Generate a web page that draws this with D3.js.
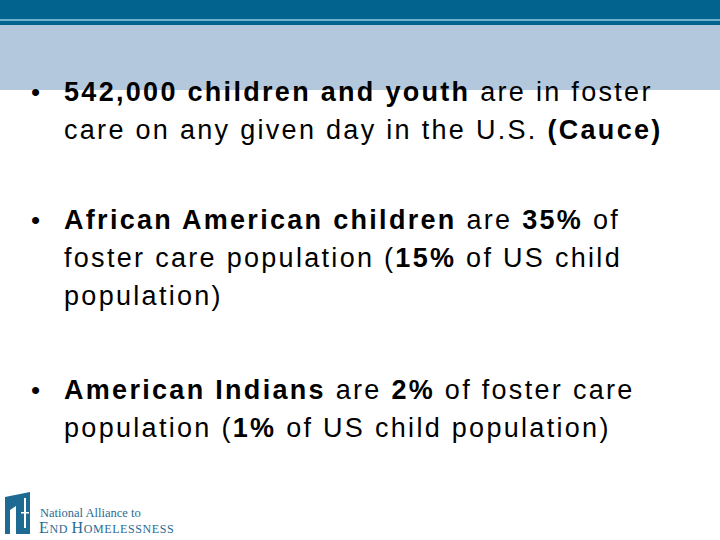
<!DOCTYPE html>
<html><head><meta charset="utf-8">
<script src="https://cdn.jsdelivr.net/npm/d3@7"></script>
<style>body{margin:0;background:#fff}</style></head>
<body><script>
// Slide content: each bullet is a list of lines, each line a list of [text, bold]
const bullet1 = [[["542,000 children and youth",1],[" are in foster",0]],[["care on any given day in the U.S. ",0],["(Cauce)",1]]];
const bullet2 = [[["African American children",1],[" are ",0],["35%",1],[" of",0]],[["foster care population (",0],["15%",1],[" of US child",0]],[["population)",0]]];
const bullet3 = [[["American Indians",1],[" are ",0],["2%",1],[" of foster care",0]],[["population (",0],["1%",1],[" of US child population)",0]]];
const bullets = [bullet1, bullet2, bullet3];
const bulletTops = [101, 229, 399];
const lineGap = 38;

const svg = d3.select("body").append("svg").attr("width",720).attr("height",540);
svg.append("rect").attr("x",0).attr("y",0).attr("width",720).attr("height",90).attr("fill","#b3c8dc");
svg.append("rect").attr("x",0).attr("y",0).attr("width",720).attr("height",19).attr("fill","#03638f");
svg.append("rect").attr("x",0).attr("y",19).attr("width",720).attr("height",2).attr("fill","#6fb0d0");
svg.append("rect").attr("x",0).attr("y",21).attr("width",720).attr("height",4).attr("fill","#03638f");
svg.append("rect").attr("x",0).attr("y",90).attr("width",720).attr("height",450).attr("fill","#fff");

bullets.forEach((b,i)=>{
  const y0 = bulletTops[i];
  svg.append("text").attr("x",31).attr("y",y0).attr("font-family","Liberation Sans, Arial").attr("font-size",26).text("•");
  b.forEach((line,j)=>{
    const t = svg.append("text").attr("x",64).attr("y",y0+j*lineGap)
      .attr("font-family","Liberation Sans, Arial").attr("font-size",27).attr("letter-spacing",2.3).attr("fill","#000");
    line.forEach(s=>t.append("tspan").attr("font-weight",s[1]?"bold":"normal").text(s[0]));
  });
});

// logo
const g = svg.append("g");
g.append("path").attr("d","M5,497 L30,492 L30,534 L5,534 Z M10,510 L10,534 L16,534 L16,506 Z").attr("fill","#1f6a93").attr("fill-rule","evenodd");
g.append("rect").attr("x",24).attr("y",498).attr("width",2).attr("height",30).attr("fill","#fff");
g.append("rect").attr("x",21).attr("y",512).attr("width",8).attr("height",1.5).attr("fill","#fff");
g.append("text").attr("x",40).attr("y",517).attr("font-family","Liberation Serif, serif").attr("font-size",12.5).attr("fill","#2a6a94").text("National Alliance to");
const t2 = g.append("text").attr("x",39).attr("y",533).attr("font-family","Liberation Serif, serif").attr("fill","#2a6a94").attr("letter-spacing",0.6);
[["E",16],["ND ",12],["H",16],["OMELESSNESS",12]].forEach(s=>t2.append("tspan").attr("font-size",s[1]).text(s[0]));
</script></body></html>
